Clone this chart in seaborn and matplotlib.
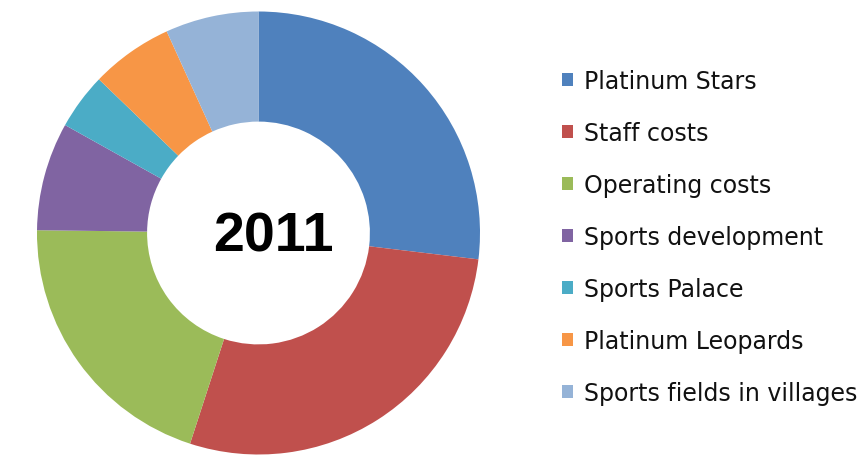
import matplotlib
matplotlib.use("Agg")
import matplotlib.pyplot as plt
import seaborn as sns
from matplotlib.patches import Patch

categories = ["Platinum Stars", "Staff costs", "Operating costs", "Sports development",
              "Sports Palace", "Platinum Leopards", "Sports fields in villages"]
values = [26.9, 28.1, 20.2, 7.9, 4.1, 6.0, 6.8]
colors = ["#4F81BD", "#C0504D", "#9BBB59", "#8064A2", "#4BACC6", "#F79646", "#95B3D7"]
center_label = "2011"

sns.set_theme(style="white")
palette = sns.color_palette(colors)
plt.rcParams['font.family'] = ['DejaVu Sans']

W, H = 861, 460
fig = plt.figure(figsize=(W / 100, H / 100), dpi=100)
fig.patch.set_facecolor("white")

cx, cy, r = 258.5, 234, 221.5
ax = fig.add_axes([(cx - r) / W, (H - cy - r) / H, 2 * r / W, 2 * r / H])
wedges, _ = ax.pie(values, colors=palette, startangle=90, counterclock=False,
                   radius=1.0, wedgeprops=dict(width=0.497, linewidth=0))
ax.set_xlim(-1, 1)
ax.set_ylim(-1, 1)
ax.set_aspect("equal")
ax.axis("off")
ax.text(0.065, -0.015, center_label, ha="center", va="center", fontsize=40,
        fontweight="bold", family=["Liberation Sans"], color="black")

handles = [Patch(facecolor=c, edgecolor="none") for c in palette]
leg = fig.legend(handles, categories, loc="upper left",
                 bbox_to_anchor=(562 / W, (H - 70) / H), frameon=False,
                 fontsize=17, handlelength=0.45, handleheight=0.45, handletextpad=0.5,
                 labelspacing=1.185, borderpad=0, borderaxespad=0)
for t in leg.get_texts():
    t.set_color("#111111")

fig.savefig("out.png", dpi=100, facecolor="white")
